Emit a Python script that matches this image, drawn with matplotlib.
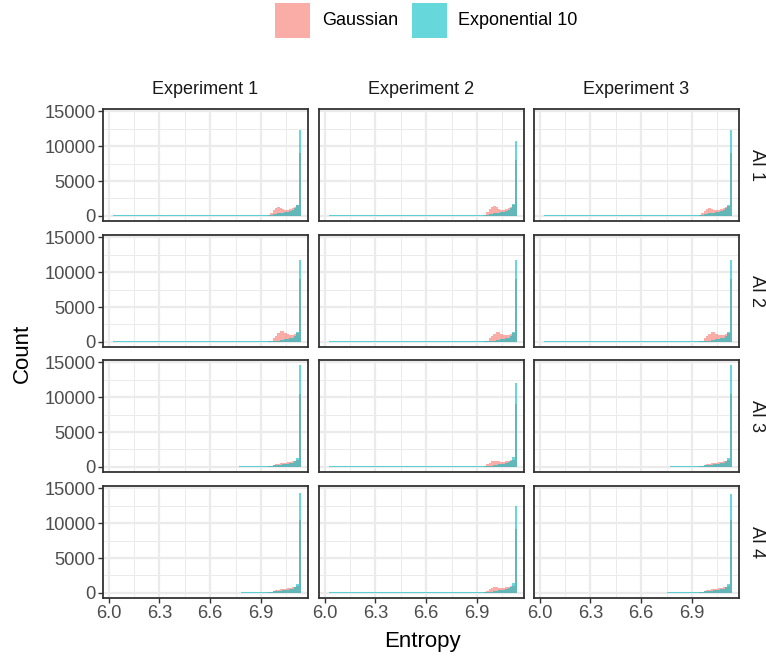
import matplotlib
matplotlib.use("Agg")
import matplotlib.pyplot as plt
import numpy as np
from matplotlib.patches import Rectangle

plt.rcParams['font.family'] = ['Liberation Sans', 'DejaVu Sans']

# facet labels
experiments = ["Experiment 1", "Experiment 2", "Experiment 3"]
ais = ["AI 1", "AI 2", "AI 3", "AI 4"]
series = ["Gaussian", "Exponential 10"]

# histogram bins: the populated tail ends at 7.137
bin_width = 0.014
tail_end = 7.137
n_tail = 15
tail_left = tail_end - bin_width * np.arange(n_tail, 0, -1)

# low flat run of Exponential 10 counts before the tail (start x, height)
exp_start = [
    [6.025, 6.025, 6.025],
    [6.025, 6.025, 6.025],
    [6.77, 6.025, 6.77],
    [6.78, 6.025, 6.75],
]
exp_base = [
    [160, 160, 160],
    [160, 160, 160],
    [180, 160, 180],
    [180, 160, 180],
]

# counts per tail bin (last bin = spike), [row][col]
gauss_tail = [
    [[0, 120, 400, 800, 1150, 1300, 1150, 950, 850, 850, 950, 1100, 1300, 1500, 9000],
     [0, 150, 500, 950, 1300, 1400, 1250, 1000, 850, 850, 950, 1100, 1300, 1500, 8000],
     [0, 100, 350, 750, 1050, 1150, 1050, 900, 800, 850, 950, 1100, 1250, 1400, 9000]],
    [[0, 60, 200, 500, 900, 1300, 1600, 1550, 1300, 1100, 1000, 1000, 1100, 1300, 9000],
     [0, 60, 200, 500, 850, 1200, 1450, 1400, 1200, 1000, 950, 1000, 1100, 1300, 9000],
     [0, 60, 200, 500, 850, 1200, 1450, 1400, 1200, 1000, 950, 1000, 1100, 1300, 9000]],
    [[50, 100, 200, 300, 400, 450, 500, 550, 600, 650, 700, 800, 900, 1000, 10500],
     [50, 150, 350, 600, 800, 900, 850, 800, 750, 750, 800, 850, 950, 1050, 9000],
     [50, 100, 200, 300, 400, 450, 500, 550, 600, 650, 700, 800, 900, 1000, 10500]],
    [[50, 100, 200, 300, 400, 450, 500, 550, 600, 650, 700, 800, 900, 1000, 10500],
     [50, 150, 300, 500, 700, 800, 800, 750, 750, 750, 800, 850, 950, 1050, 9200],
     [50, 100, 200, 300, 400, 450, 500, 550, 600, 650, 700, 800, 900, 1000, 10400]],
]
exp_tail = [
    [[160, 170, 200, 250, 300, 350, 400, 450, 500, 600, 700, 850, 1100, 1600, 12300],
     [160, 170, 200, 250, 300, 350, 400, 450, 500, 600, 700, 900, 1200, 1700, 10700],
     [160, 170, 200, 250, 300, 350, 400, 450, 500, 600, 700, 850, 1100, 1600, 12300]],
    [[160, 160, 170, 180, 190, 200, 250, 300, 350, 400, 500, 600, 800, 1400, 11700],
     [160, 160, 170, 180, 190, 200, 250, 300, 350, 400, 500, 600, 800, 1400, 11700],
     [160, 160, 170, 180, 190, 200, 250, 300, 350, 400, 500, 600, 800, 1400, 11800]],
    [[180, 190, 200, 220, 250, 280, 300, 350, 400, 450, 500, 600, 800, 1300, 14600],
     [160, 170, 180, 190, 200, 250, 300, 350, 400, 450, 500, 650, 850, 1400, 12100],
     [180, 190, 200, 220, 250, 280, 300, 350, 400, 450, 500, 600, 800, 1300, 14600]],
    [[180, 190, 200, 220, 250, 280, 300, 350, 400, 450, 500, 600, 800, 1300, 14300],
     [160, 170, 180, 190, 200, 250, 300, 350, 400, 450, 500, 650, 850, 1400, 12500],
     [180, 190, 200, 220, 250, 280, 300, 350, 400, 450, 500, 600, 800, 1300, 14200]],
]

x_ticks = [6.0, 6.3, 6.6, 6.9]
x_minor = [6.15, 6.45, 6.75, 7.05]
y_ticks = [0, 5000, 10000, 15000]
y_minor = [2500, 7500, 12500]

colors = ["#F8766D", "#00BFC4"]
alpha = 0.6

W, H = 766, 657
fig = plt.figure(figsize=(W / 100, H / 100), dpi=100)

col_left = [103, 319, 534]
panel_w = 205
row_top = [109, 235, 360, 486]
panel_h = 112

xlim = (5.966, 7.178)
ymax = max(max(r[-1] for r in row) for row in exp_tail)
ylim = (-0.05 * ymax, 1.05 * ymax)

for i in range(4):
    for j in range(3):
        ax = fig.add_axes([col_left[j] / W, 1 - (row_top[i] + panel_h) / H,
                           panel_w / W, panel_h / H])
        ax.set_xlim(xlim)
        ax.set_ylim(ylim)
        for x in x_minor:
            ax.axvline(x, color="#EBEBEB", lw=0.7, zorder=0)
        for y in y_minor:
            ax.axhline(y, color="#EBEBEB", lw=0.7, zorder=0)
        for x in x_ticks:
            ax.axvline(x, color="#EBEBEB", lw=1.6, zorder=0)
        for y in y_ticks:
            ax.axhline(y, color="#EBEBEB", lw=1.6, zorder=0)

        ax.bar(tail_left, gauss_tail[i][j], width=bin_width, align="edge",
               color=colors[0], alpha=alpha, linewidth=0, zorder=2)
        ax.bar([exp_start[i][j]], [exp_base[i][j]], width=tail_left[0] - exp_start[i][j],
               align="edge", color=colors[1], alpha=alpha, linewidth=0, zorder=3)
        ax.bar(tail_left, exp_tail[i][j], width=bin_width, align="edge",
               color=colors[1], alpha=alpha, linewidth=0, zorder=3)

        for s in ax.spines.values():
            s.set_color("#333333")
            s.set_linewidth(1.3)
        ax.set_xticks(x_ticks)
        ax.set_yticks(y_ticks)
        ax.tick_params(length=3.6, width=1.0, color="#333333", pad=1.8,
                       labelsize=13.2, labelcolor="#4D4D4D")
        if j == 0:
            ax.set_yticklabels([str(v) for v in y_ticks])
        else:
            ax.tick_params(axis="y", length=0, labelleft=False)
        if i == 3:
            ax.set_xticklabels([f"{v:.1f}" for v in x_ticks])
        else:
            ax.tick_params(axis="x", length=0, labelbottom=False)

        if i == 0:
            ax.text(0.5, 1.0 + 19 / panel_h, experiments[j], transform=ax.transAxes,
                    ha="center", va="center", fontsize=13, color="#1A1A1A")
        if j == 2:
            ax.text(1.0 + 17 / panel_w, 0.5, ais[i], transform=ax.transAxes,
                    ha="center", va="center", rotation=270, fontsize=13, color="#1A1A1A",
                    rotation_mode="anchor")

fig.text(422 / W, 1 - 641 / H, "Entropy", ha="center", va="center", fontsize=16)
fig.text(22 / W, 1 - 353 / H, "Count", ha="center", va="center", rotation=90, fontsize=16)

# legend
key_x = [275, 412]
text_x = [322, 458]
for k in range(2):
    fig.patches.append(Rectangle((key_x[k] / W, 1 - 38 / H), 35 / W, 35 / H,
                                 transform=fig.transFigure, facecolor=colors[k],
                                 alpha=alpha, linewidth=0))
    fig.text(text_x[k] / W, 1 - 20.5 / H, series[k], ha="left", va="center", fontsize=13)

fig.savefig("out.png", dpi=100, facecolor="white")
